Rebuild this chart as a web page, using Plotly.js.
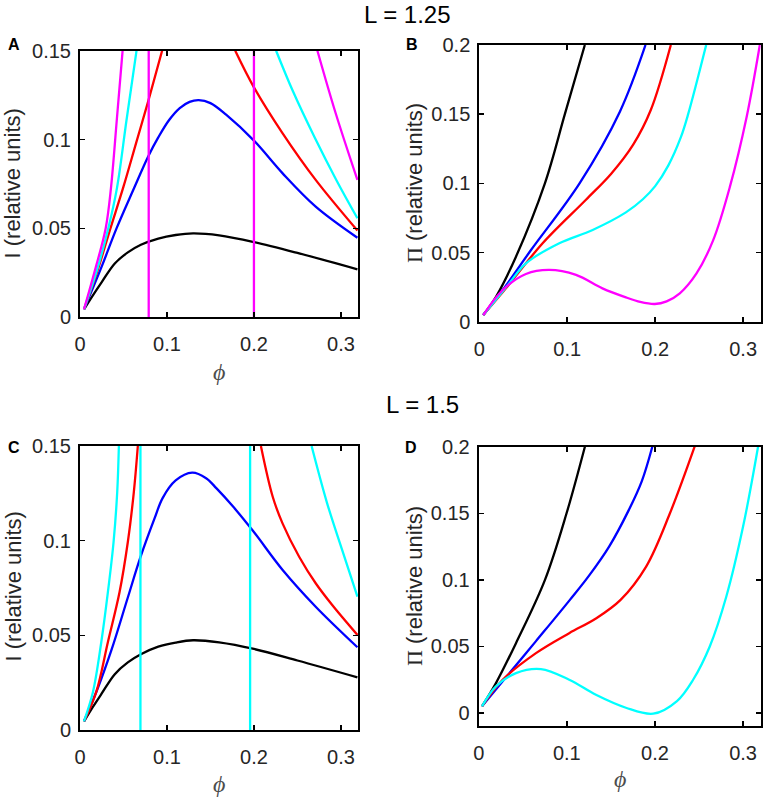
<!DOCTYPE html>
<html>
<head>
<meta charset="utf-8">
<script src="https://cdn.plot.ly/plotly-3.0.1.min.js"></script>
<style>
  html, body { margin: 0; padding: 0; background: #fff; }
  #fig { width: 765px; height: 797px; }
</style>
</head>
<body>
<div id="fig"></div>
<script>
// ---- data ----
var phiTicks = [0, 0.1, 0.2, 0.3]
var phiTickText = ['0', '0.1', '0.2', '0.3']
var iTicks = [0, 0.05, 0.1, 0.15]
var iTickText = ['0', '0.05', '0.1', '0.15']
var piTicks = [0, 0.05, 0.1, 0.15, 0.2]
var piTickText = ['0', '0.05', '0.1', '0.15', '0.2']

// panel A : I vs phi, L = 1.25
var aBlackX = [0.0046, 0.015, 0.025, 0.040, 0.055, 0.070, 0.090, 0.110, 0.130, 0.160, 0.200, 0.250, 0.319]
var aBlackY = [0.0045, 0.0125, 0.0198, 0.0303, 0.0365, 0.0408, 0.0443, 0.0463, 0.0472, 0.0461, 0.0423, 0.0362, 0.0270]
var aBlueX = [0.0046, 0.0249, 0.042, 0.0612, 0.0784, 0.090, 0.1025, 0.1147, 0.126, 0.1365, 0.150, 0.168, 0.200, 0.233, 0.271, 0.319]
var aBlueY = [0.0045, 0.0285, 0.050, 0.0716, 0.0905, 0.1012, 0.1110, 0.1177, 0.1212, 0.1222, 0.1205, 0.1140, 0.0994, 0.0810, 0.0623, 0.0448]
var aRedX = [0.0046, 0.020, 0.035, 0.050, 0.0645, 0.0784, 0.0944, null, 0.1785, 0.200, 0.233, 0.271, 0.319]
var aRedY = [0.0045, 0.026, 0.050, 0.0735, 0.098, 0.1215, 0.150, null, 0.150, 0.1294, 0.1035, 0.0773, 0.0488]
var aCyanX = [0.0046, 0.0195, 0.0325, 0.0425, 0.0535, 0.065, null, 0.2255, 0.245, 0.270, 0.295, 0.319]
var aCyanY = [0.0045, 0.0265, 0.050, 0.0727, 0.111, 0.150, null, 0.150, 0.127, 0.101, 0.077, 0.0557]
var aMagentaX = [0.0046, 0.0175, 0.0295, 0.0356, 0.0423, 0.049, null, 0.273, 0.294, 0.319]
var aMagentaY = [0.0045, 0.027, 0.050, 0.0727, 0.111, 0.150, null, 0.150, 0.1148, 0.0773]
var aSpinodal = [0.079, 0.200]

// panel B : Pi vs phi, L = 1.25
var bBlackX = [0.0045, 0.019, 0.0417, 0.0746, 0.0973, 0.120]
var bBlackY = [0.0048, 0.018, 0.047, 0.100, 0.150, 0.200]
var bBlueX = [0.0045, 0.0266, 0.0588, 0.114, 0.160, 0.189]
var bBlueY = [0.0048, 0.0229, 0.0518, 0.100, 0.152, 0.200]
var bRedX = [0.0045, 0.0303, 0.072, 0.121, 0.150, 0.175, 0.195, 0.2178]
var bRedY = [0.0048, 0.0241, 0.0567, 0.088, 0.107, 0.128, 0.153, 0.200]
var bCyanX = [0.0045, 0.034, 0.053, 0.091, 0.1289, 0.1667, 0.186, 0.200, 0.215, 0.229, 0.2375, 0.258]
var bCyanY = [0.0048, 0.0277, 0.0422, 0.0567, 0.0663, 0.079, 0.0885, 0.098, 0.113, 0.133, 0.150, 0.200]
var bMagentaX = [0.0045, 0.0266, 0.053, 0.0795, 0.110, 0.140, 0.1667, 0.183, 0.1996, 0.213, 0.228, 0.247, 0.266, 0.285, 0.304, 0.319]
var bMagentaY = [0.0048, 0.0229, 0.0345, 0.0374, 0.0338, 0.0241, 0.0176, 0.0143, 0.0128, 0.0147, 0.0205, 0.0349, 0.059, 0.0976, 0.148, 0.200]

// panel C : I vs phi, L = 1.5
var cBlackX = [0.0046, 0.015, 0.025, 0.040, 0.055, 0.070, 0.090, 0.110, 0.130, 0.160, 0.200, 0.250, 0.319]
var cBlackY = [0.0045, 0.0123, 0.0193, 0.0295, 0.0357, 0.0400, 0.0440, 0.0462, 0.0474, 0.0463, 0.0428, 0.0367, 0.0278]
var cBlueX = [0.0046, 0.020, 0.036, 0.055, 0.0696, 0.0856, 0.095, 0.110, 0.129, 0.145, 0.157, 0.176, 0.1995, 0.233, 0.271, 0.319]
var cBlueY = [0.0046, 0.0215, 0.042, 0.070, 0.0914, 0.1116, 0.1225, 0.1318, 0.1359, 0.1330, 0.1276, 0.118, 0.1048, 0.0845, 0.0651, 0.0437]
var cRedX = [0.0046, 0.0187, 0.0321, 0.0455, 0.055, 0.0619, 0.0665, null, 0.208, 0.2216, 0.233, 0.252, 0.271, 0.290, 0.319]
var cRedY = [0.0046, 0.0201, 0.0465, 0.0729, 0.0993, 0.1257, 0.150, null, 0.150, 0.1232, 0.109, 0.0915, 0.0775, 0.066, 0.0502]
var cCyanX = [0.0046, 0.0149, 0.0245, 0.0321, 0.0386, 0.0428, 0.0447, null, 0.2663, 0.284, 0.3015, 0.319]
var cCyanY = [0.0046, 0.0201, 0.0465, 0.0729, 0.0993, 0.1257, 0.150, null, 0.150, 0.120, 0.095, 0.0704]
var cSpinodal = [0.0695, 0.1956]

// panel D : Pi vs phi, L = 1.5
var dBlackX = [0.0037, 0.0196, 0.0423, 0.0752, 0.0997, 0.1205]
var dBlackY = [0.005, 0.0225, 0.0525, 0.100, 0.150, 0.200]
var dBlueX = [0.0037, 0.0272, 0.065, 0.1035, 0.125, 0.148, 0.170, 0.185, 0.197]
var dBlueY = [0.005, 0.0238, 0.054, 0.085, 0.103, 0.125, 0.152, 0.174, 0.200]
var dRedX = [0.0037, 0.0272, 0.065, 0.1027, 0.133, 0.161, 0.190, 0.217, 0.245]
var dRedY = [0.005, 0.025, 0.045, 0.060, 0.071, 0.085, 0.110, 0.150, 0.200]
var dCyanX = [0.0037, 0.0196, 0.0423, 0.0706, 0.1027, 0.133, 0.167, 0.198, 0.225, 0.2433, 0.2622, 0.281, 0.300, 0.317]
var dCyanY = [0.005, 0.020, 0.030, 0.033, 0.025, 0.0137, 0.004, -0.0005, 0.009, 0.025, 0.050, 0.0875, 0.140, 0.200]

var phiRange = [0, 0.32]
var iRange = [0, 0.15]
var piRangeB = [0, 0.2]
var piRangeD = [-0.0095, 0.2]

// ---- plotting ----
var colors = { black: '#000000', blue: '#0000ff', red: '#ff0000', cyan: '#00ffff', magenta: '#ff00ff' }

function curve(x, y, color, ax) {
    return {
        x: x, y: y,
        type: 'scatter', mode: 'lines',
        line: { color: color, width: 2.3, shape: 'spline', smoothing: 1 },
        xaxis: 'x' + ax, yaxis: 'y' + ax,
        hoverinfo: 'skip', showlegend: false
    }
}

function verticals(xs, yr, color, ax) {
    var x = [], y = []
    xs.forEach(function (v) { x.push(v, v, null); y.push(yr[0], yr[1], null) })
    return {
        x: x, y: y, type: 'scatter', mode: 'lines',
        line: { color: color, width: 2.3 },
        xaxis: 'x' + ax, yaxis: 'y' + ax,
        hoverinfo: 'skip', showlegend: false
    }
}

var traces = [
    curve(aBlackX, aBlackY, colors.black, ''),
    curve(aBlueX, aBlueY, colors.blue, ''),
    curve(aRedX, aRedY, colors.red, ''),
    curve(aCyanX, aCyanY, colors.cyan, ''),
    curve(aMagentaX, aMagentaY, colors.magenta, ''),
    verticals(aSpinodal, iRange, colors.magenta, ''),

    curve(bBlackX, bBlackY, colors.black, '2'),
    curve(bBlueX, bBlueY, colors.blue, '2'),
    curve(bRedX, bRedY, colors.red, '2'),
    curve(bCyanX, bCyanY, colors.cyan, '2'),
    curve(bMagentaX, bMagentaY, colors.magenta, '2'),

    curve(cBlackX, cBlackY, colors.black, '3'),
    curve(cBlueX, cBlueY, colors.blue, '3'),
    curve(cRedX, cRedY, colors.red, '3'),
    curve(cCyanX, cCyanY, colors.cyan, '3'),
    verticals(cSpinodal, iRange, colors.cyan, '3'),

    curve(dBlackX, dBlackY, colors.black, '4'),
    curve(dBlueX, dBlueY, colors.blue, '4'),
    curve(dRedX, dRedY, colors.red, '4'),
    curve(dCyanX, dCyanY, colors.cyan, '4')
]

var tickFont = { family: 'Arial, Liberation Sans, sans-serif', size: 20, color: '#262626' }

function axis(domain, range, tickvals, ticktext, anchor, standoff) {
    return {
        domain: domain, range: range, anchor: anchor,
        tickvals: tickvals, ticktext: ticktext,
        showline: true, linecolor: '#000', linewidth: 2, mirror: 'ticks',
        ticks: 'inside', ticklen: 5, tickwidth: 1.5, tickcolor: '#000',
        ticklabelstandoff: standoff,
        showgrid: false, zeroline: false, fixedrange: true,
        tickfont: tickFont
    }
}

var W = 765, H = 797
function px(v) { return v / W }
function py(v) { return 1 - v / H }

var xA = axis([px(80), px(358.3)], phiRange, phiTicks, phiTickText, 'y', 8)
var yA = axis([py(317.3), py(50.7)], iRange, iTicks, iTickText, 'x', 3)
var xB = axis([px(479.3), px(760.7)], phiRange, phiTicks, phiTickText, 'y2', 8)
var yB = axis([py(321.7), py(45)], piRangeB, piTicks, piTickText, 'x2', 3)
var xC = axis([px(80), px(358.3)], phiRange, phiTicks, phiTickText, 'y3', 8)
var yC = axis([py(730), py(446)], iRange, iTicks, iTickText, 'x3', 3)
var xD = axis([px(478.7), px(760.7)], phiRange, phiTicks, phiTickText, 'y4', 8)
var yD = axis([py(725.7), py(446.7)], piRangeD, piTicks, piTickText, 'x4', 3)

var labelFont = { family: 'Arial, Liberation Sans, sans-serif', size: 22, color: '#262626' }
var phiFont = { family: 'Liberation Serif, Times New Roman, serif', size: 24, color: '#4d4d4d' }
var piLabel = '<span style="font-family:Liberation Serif, Times New Roman, serif">Π</span> (relative units)'

function note(text, x, y, font, angle) {
    return {
        text: text, xref: 'paper', yref: 'paper', x: px(x), y: py(y),
        xanchor: 'center', yanchor: 'middle', showarrow: false,
        textangle: angle || 0, font: font
    }
}

var titleFont = { family: 'Arial, Liberation Sans, sans-serif', size: 24, color: '#000' }
var letterFont = { family: 'Arial, Liberation Sans, sans-serif', size: 16, color: '#000' }

var annotations = [
    note('L = 1.25', 407.5, 14, titleFont),
    note('L = 1.5', 422.5, 404, titleFont),
    note('<b>A</b>', 14.5, 45, letterFont),
    note('<b>B</b>', 411.5, 45, letterFont),
    note('<b>C</b>', 14, 447, letterFont),
    note('<b>D</b>', 411, 447, letterFont),
    note('I (relative units)', 12.5, 184, labelFont, -90),
    note(piLabel, 414, 183, labelFont, -90),
    note('I (relative units)', 12.5, 587, labelFont, -90),
    note(piLabel, 414, 586, labelFont, -90),
    note('<i>ϕ</i>', 218.5, 371.5, phiFont),
    note('<i>ϕ</i>', 218.5, 784, phiFont),
    note('<i>ϕ</i>', 619.5, 779, phiFont)
]

var layout = {
    width: W, height: H,
    margin: { l: 0, r: 0, t: 0, b: 0 },
    paper_bgcolor: '#fff', plot_bgcolor: '#fff',
    showlegend: false,
    xaxis: xA, yaxis: yA,
    xaxis2: xB, yaxis2: yB,
    xaxis3: xC, yaxis3: yC,
    xaxis4: xD, yaxis4: yD,
    annotations: annotations
}

Plotly.newPlot('fig', traces, layout, { displayModeBar: false, staticPlot: true })
</script>
</body>
</html>
